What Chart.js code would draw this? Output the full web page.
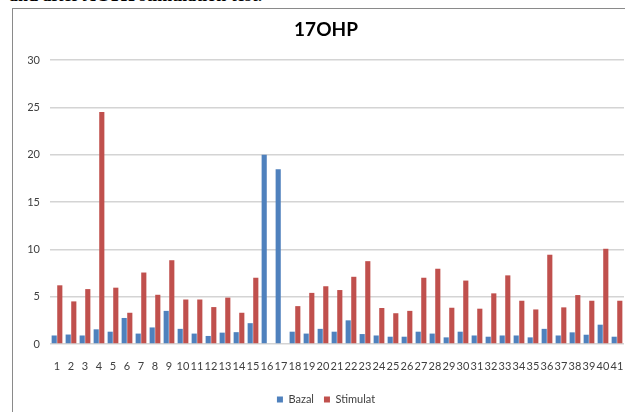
<!DOCTYPE html>
<html>
<head>
<meta charset="utf-8">
<script src="https://cdn.jsdelivr.net/npm/chart.js@4"></script>
<style>
  body { margin: 0; background: #fff; width: 625px; height: 412px; overflow: hidden; position: relative; }
  #caption { position: absolute; left: 9px; top: -15px; font: bold 18px "Liberation Serif", serif; color: #000; white-space: nowrap; }
  #frame { position: absolute; left: 12px; top: 8px; width: 700px; height: 500px; border: 1px solid #8a8a8a; }
  #c { position: absolute; left: 0; top: 0; }
</style>
</head>
<body>
<div id="caption">and after ACTH stimulation test.</div>
<div id="frame"></div>
<!-- canvas is a bit larger than the window so that title and legend centre on the chart frame -->
<canvas id="c" width="652" height="415"></canvas>
<script>
var titlu = '17OHP'

var categorii = []
for (var i = 1; i <= 41; i++) categorii.push(String(i))

var bazal = [0.9, 1.0, 0.9, 1.55, 1.3, 2.75, 1.1, 1.75, 3.5, 1.6,
             1.1, 0.85, 1.2, 1.25, 2.2, 20.0, 18.45, 1.3, 1.1, 1.6,
             1.3, 2.5, 1.05, 0.9, 0.77, 0.77, 1.3, 1.1, 0.7, 1.3,
             0.9, 0.77, 0.9, 0.9, 0.7, 1.6, 0.9, 1.23, 0.98, 2.04, 0.77]

var stimulat = [6.2, 4.5, 5.8, 24.5, 5.95, 3.3, 7.55, 5.2, 8.85, 4.7,
                4.7, 3.9, 4.9, 3.3, 7.0, 0, 0, 4.0, 5.4, 6.1,
                5.7, 7.1, 8.75, 3.8, 3.25, 3.5, 7.0, 7.95, 3.83, 6.7,
                3.73, 5.35, 7.25, 4.57, 3.65, 9.43, 3.87, 5.17, 4.57, 10.06, 4.57]

var yTicks = [0, 5, 10, 15, 20, 25, 30]

var ctx = document.getElementById('c').getContext('2d')
var font = 'Lato, "Open Sans", sans-serif'

// titlul desenat manual, centrat pe cadru
var titluPlugin = {
    id: 'titlu',
    afterDraw: function(ch) {
        var c = ch.ctx
        c.save()
        c.font = 'bold 19px ' + font
        c.fillStyle = '#000'
        c.textAlign = 'center'
        c.textBaseline = 'alphabetic'
        c.fillText(titlu, ch.width / 2, 36)
        c.restore()
    }
}

var chart = new Chart(ctx, {
    type: 'bar',
    data: {
        labels: categorii,
        datasets: [{
            label: 'Bazal',
            backgroundColor: '#4F81BD',
            data: bazal,
            categoryPercentage: 0.8,
            barPercentage: 0.92
        }, {
            label: 'Stimulat',
            backgroundColor: '#C0504D',
            data: stimulat,
            categoryPercentage: 0.8,
            barPercentage: 0.92
        }]
    },
    options: {
        responsive: false,
        animation: false,
        layout: { padding: { left: 28, right: 28, top: 60, bottom: 0 } },
        plugins: {
            title: { display: false },
            legend: {
                position: 'bottom',
                labels: {
                    boxWidth: 6,
                    boxHeight: 6,
                    color: '#404040',
                    font: { family: font, size: 11 },
                    padding: 10
                }
            },
            tooltip: { enabled: false }
        },
        scales: {
            x: {
                grid: { display: false, drawTicks: false },
                border: { display: false },
                ticks: {
                    autoSkip: false, maxRotation: 0, minRotation: 0,
                    color: '#404040', font: { family: font, size: 11 }, padding: 16
                },
                afterFit: function(s) { s.height = 40 }
            },
            y: {
                min: 0, max: 30,
                afterBuildTicks: function(s) { s.ticks = yTicks.map(function(v) { return { value: v } }) },
                grid: { color: '#d4d4d4', lineWidth: 1.5, drawTicks: false },
                border: { display: false },
                ticks: { color: '#404040', font: { family: font, size: 11 }, padding: 10 },
                afterFit: function(s) { s.width = 22 }
            }
        }
    },
    plugins: [titluPlugin]
})
</script>
</body>
</html>
